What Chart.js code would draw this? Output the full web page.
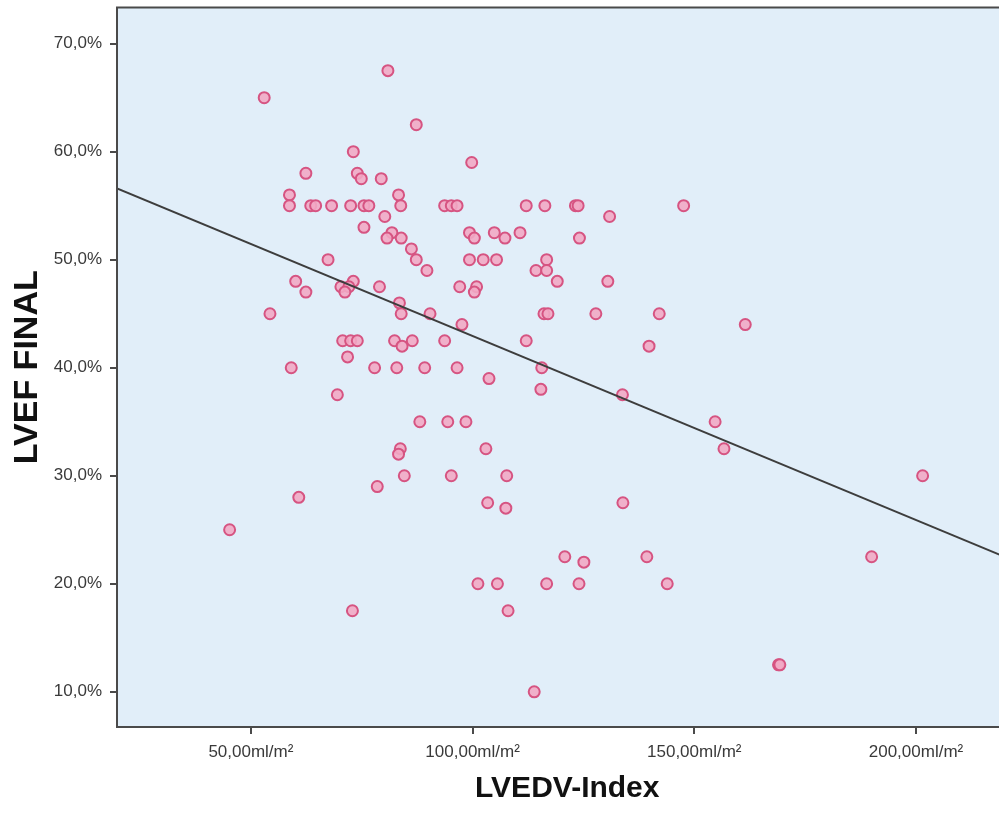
<!DOCTYPE html>
<html>
<head>
<meta charset="utf-8">
<script src="https://cdn.jsdelivr.net/npm/chart.js@4"></script>
<style>
  html, body { margin: 0; padding: 0; background: #ffffff; overflow: hidden; }
  #wrap { position: relative; width: 1025px; height: 827px; }
  canvas { display: block; }
</style>
</head>
<body>
<div id="wrap"><canvas id="chart" width="1025" height="827" style="width:1025px;height:827px"></canvas></div>
<script>
// LVEDV index (ml/m²) for each patient
const lvedvIndex = [
  53.0, 80.9, 73.1, 62.4, 74.0, 74.9, 79.4, 58.7, 58.7, 63.5,
  64.6, 68.2, 72.5, 75.5, 76.6, 83.3, 83.8, 80.2, 75.5, 81.8,
  80.7, 83.9, 67.4, 60.1, 62.4, 73.1, 70.3, 72.1, 71.2, 79.0,
  83.5, 83.9, 54.3, 87.3, 99.8, 93.7, 95.2, 96.5, 112.1, 116.3,
  123.2, 123.8, 147.6, 130.9, 99.3, 100.4, 104.9, 107.3, 110.7, 124.1,
  86.2, 87.3, 89.7, 99.3, 102.4, 105.4, 116.7, 114.3, 116.7, 119.1,
  130.5, 97.1, 100.9, 100.4, 90.4, 97.6, 116.1, 117.0, 127.8, 142.1,
  70.7, 72.5, 74.0, 82.4, 84.1, 71.8, 59.1, 77.9, 82.9, 69.5,
  83.7, 83.3, 84.6, 78.5, 60.8, 45.2, 86.4, 93.7, 112.1, 139.8,
  89.2, 96.5, 103.7, 115.6, 115.4, 133.8, 88.1, 94.4, 98.5, 103.0,
  95.2, 107.7, 103.4, 107.5, 133.9, 120.8, 125.1, 139.3, 101.2, 105.6,
  116.7, 124.0, 143.9, 161.5, 154.7, 156.7, 201.5, 190.0, 72.9, 108.0,
  113.9, 169.0, 169.3
];
// Final LVEF (%) for the same patients
const lvefFinal = [
  65.0, 67.5, 60.0, 58.0, 58.0, 57.5, 57.5, 56.0, 55.0, 55.0,
  55.0, 55.0, 55.0, 55.0, 55.0, 56.0, 55.0, 54.0, 53.0, 52.5,
  52.0, 52.0, 50.0, 48.0, 47.0, 48.0, 47.5, 47.5, 47.0, 47.5,
  46.0, 45.0, 45.0, 62.5, 59.0, 55.0, 55.0, 55.0, 55.0, 55.0,
  55.0, 55.0, 55.0, 54.0, 52.5, 52.0, 52.5, 52.0, 52.5, 52.0,
  51.0, 50.0, 49.0, 50.0, 50.0, 50.0, 50.0, 49.0, 49.0, 48.0,
  48.0, 47.5, 47.5, 47.0, 45.0, 44.0, 45.0, 45.0, 45.0, 45.0,
  42.5, 42.5, 42.5, 42.5, 42.0, 41.0, 40.0, 40.0, 40.0, 37.5,
  32.5, 32.0, 30.0, 29.0, 28.0, 25.0, 42.5, 42.5, 42.5, 42.0,
  40.0, 40.0, 39.0, 40.0, 38.0, 37.5, 35.0, 35.0, 35.0, 32.5,
  30.0, 30.0, 27.5, 27.0, 27.5, 22.5, 22.0, 22.5, 20.0, 20.0,
  20.0, 20.0, 20.0, 44.0, 35.0, 32.5, 30.0, 22.5, 17.5, 17.5,
  10.0, 12.5, 12.5
];
// Linear fit line end points
const fitX = [19.8, 222.9];
const fitY = [56.6, 22.0];
// Axis ticks and ranges
const xTicks = [50, 100, 150, 200];
const yTicks = [10, 20, 30, 40, 50, 60, 70];
const xRange = [19.8, 222.9];
const yRange = [6.74, 73.35];

const points = lvedvIndex.map((x, i) => ({ x: x, y: lvefFinal[i] }));
const fitLine = fitX.map((x, i) => ({ x: x, y: fitY[i] }));

const plotFrame = {
  id: 'plotFrame',
  beforeDatasetsDraw(chart) {
    const { ctx, chartArea: a } = chart;
    ctx.save();
    ctx.fillStyle = '#e1eef9';
    ctx.fillRect(a.left, a.top, a.right - a.left, a.bottom - a.top);
    ctx.restore();
  },
  afterDraw(chart) {
    const { ctx, chartArea: a } = chart;
    ctx.save();
    ctx.strokeStyle = '#4a4a4a';
    ctx.lineWidth = 2;
    ctx.strokeRect(a.left, a.top, a.right - a.left, a.bottom - a.top);
    ctx.restore();
  }
};

const fontFamily = "'Liberation Sans', Arial, sans-serif";
const tickFont = { family: fontFamily, size: 17 };

new Chart(document.getElementById('chart'), {
  type: 'scatter',
  data: {
    datasets: [
      {
        type: 'line',
        data: fitLine,
        borderColor: '#3d3d3d',
        borderWidth: 2,
        pointRadius: 0,
        fill: false,
        order: 0
      },
      {
        data: points,
        pointStyle: 'circle',
        pointRadius: 5.5,
        pointBorderWidth: 2,
        pointBorderColor: 'rgb(214, 84, 130)',
        pointBackgroundColor: 'rgba(242, 168, 196, 0.9)',
        order: 1
      }
    ]
  },
  options: {
    responsive: false,
    animation: false,
    layout: { padding: { top: 7, right: 2, bottom: 0, left: 0 } },
    plugins: { legend: { display: false }, tooltip: { enabled: false } },
    scales: {
      x: {
        type: 'linear',
        min: xRange[0],
        max: xRange[1],
        afterBuildTicks(scale) { scale.ticks = xTicks.map(v => ({ value: v })); },
        afterFit(scale) { scale.height = 100; scale.paddingLeft = 0; scale.paddingRight = 0; },
        grid: { drawOnChartArea: false, drawTicks: true, tickLength: 7, color: '#4a4a4a', lineWidth: 2 },
        border: { display: true, color: '#4a4a4a', width: 2 },
        ticks: {
          padding: 8,
          color: '#3a3a3a',
          font: tickFont,
          maxRotation: 0,
          callback: v => v.toFixed(2).replace('.', ',') + 'ml/m²'
        },
        title: {
          display: true,
          text: 'LVEDV-Index',
          color: '#111111',
          font: { family: fontFamily, size: 30, weight: 'bold' },
          padding: { top: 0, bottom: 20 }
        }
      },
      y: {
        type: 'linear',
        min: yRange[0],
        max: yRange[1],
        afterBuildTicks(scale) { scale.ticks = yTicks.map(v => ({ value: v })); },
        afterFit(scale) { scale.width = 117; scale.paddingTop = 0; scale.paddingBottom = 0; },
        grid: { drawOnChartArea: false, drawTicks: true, tickLength: 7, color: '#4a4a4a', lineWidth: 2 },
        border: { display: true, color: '#4a4a4a', width: 2 },
        ticks: {
          padding: 8,
          color: '#3a3a3a',
          font: tickFont,
          callback: v => v.toFixed(1).replace('.', ',') + '%'
        },
        title: {
          display: true,
          text: 'LVEF FINAL',
          color: '#111111',
          font: { family: fontFamily, size: 34, weight: 'bold' },
          padding: { top: 7, bottom: 0 }
        }
      }
    }
  },
  plugins: [plotFrame]
});
</script>
</body>
</html>
